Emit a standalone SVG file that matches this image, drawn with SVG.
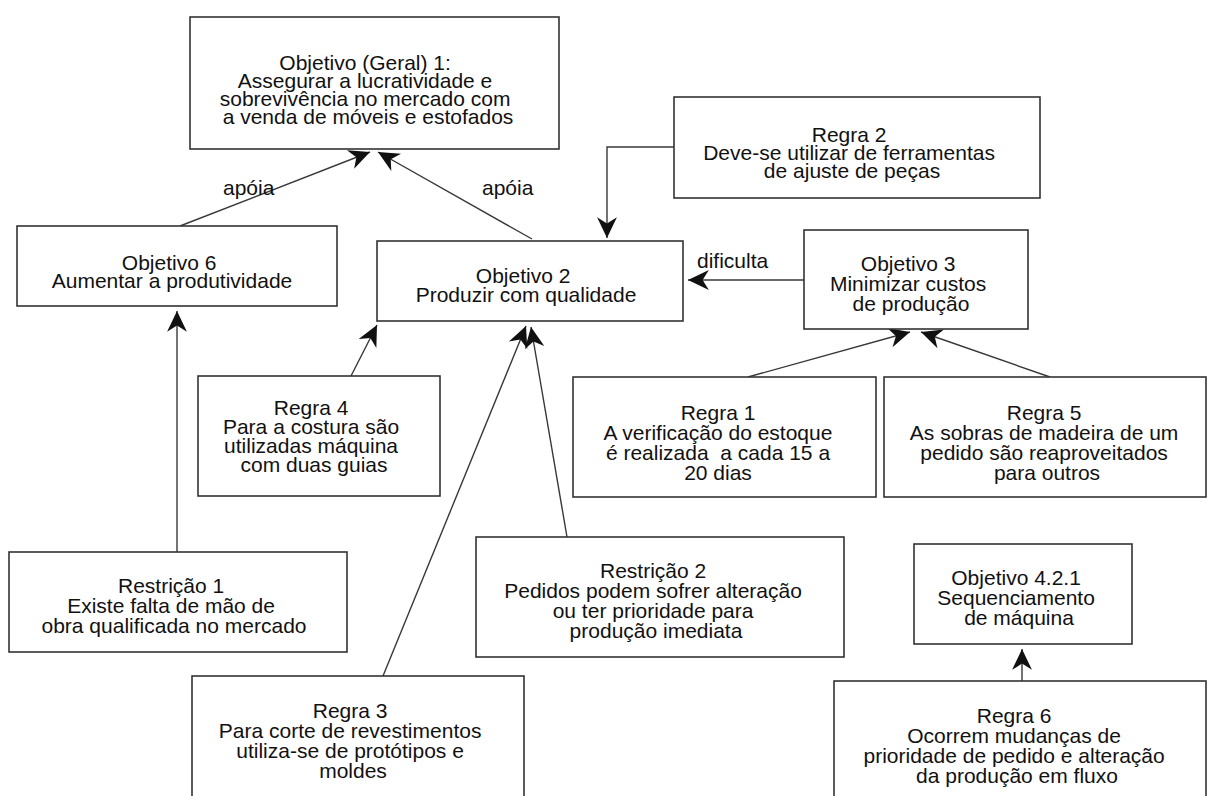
<svg xmlns="http://www.w3.org/2000/svg" width="1207" height="796" viewBox="0 0 1207 796">
  <style>
    .box { fill: #ffffff; stroke: #333333; stroke-width: 1.6; }
    .lbl { font-family: "Liberation Sans", Arial, sans-serif; font-size: 21px; fill: #111111; text-anchor: middle; }
    .edge-lbl { font-family: "Liberation Sans", Arial, sans-serif; font-size: 21px; fill: #111111; }
    .conn { fill: none; stroke: #383838; stroke-width: 1.4; marker-end: url(#arrow); }
  </style>
  <defs>
    <marker id="arrow" markerUnits="userSpaceOnUse" markerWidth="24" markerHeight="24" viewBox="-21 -11 23 22" refX="0" refY="0" orient="auto">
      <path d="M0,0 L-20,-9.5 L-14,0 L-20,9.5 Z" fill="#111111"/>
    </marker>
  </defs>

  <rect x="0" y="0" width="1207" height="796" fill="#ffffff"/>

  <!-- connectors -->
  <g id="connectors">
    <line class="conn" x1="180" y1="226" x2="370" y2="152"/>
    <line class="conn" x1="532" y1="239" x2="378" y2="152"/>
    <polyline class="conn" points="674,147 607,147 607,238"/>
    <line class="conn" x1="804" y1="280" x2="688" y2="280"/>
    <line class="conn" x1="351" y1="376" x2="377" y2="325"/>
    <line class="conn" x1="383" y1="676" x2="526" y2="326"/>
    <line class="conn" x1="567" y1="537" x2="531" y2="327"/>
    <line class="conn" x1="177" y1="552" x2="177" y2="311"/>
    <line class="conn" x1="748" y1="377" x2="910" y2="332"/>
    <line class="conn" x1="1050" y1="377" x2="921" y2="332"/>
    <line class="conn" x1="1022" y1="681" x2="1022" y2="649"/>
    <text class="edge-lbl" x="223" y="195">apóia</text>
    <text class="edge-lbl" x="482" y="195">apóia</text>
    <text class="edge-lbl" x="697" y="268">dificulta</text>
  </g>

  <!-- nodes -->
  <g id="objetivo1">
    <rect class="box" x="190" y="17" width="369" height="132"/>
    <text class="lbl">
      <tspan x="368" y="70">Objetivo (Geral) 1:</tspan>
      <tspan x="368" y="88">Assegurar a lucratividade e</tspan>
      <tspan x="368" y="106">sobrevivência no mercado com</tspan>
      <tspan x="368" y="124">a venda de móveis e estofados</tspan>
    </text>
  </g>

  <g id="regra2">
    <rect class="box" x="674" y="97" width="366" height="101"/>
    <text class="lbl">
      <tspan x="852" y="142">Regra 2</tspan>
      <tspan x="852" y="160">Deve-se utilizar de ferramentas</tspan>
      <tspan x="852" y="178">de ajuste de peças</tspan>
    </text>
  </g>

  <g id="objetivo6">
    <rect class="box" x="17" y="226" width="320" height="80"/>
    <text class="lbl">
      <tspan x="172" y="270">Objetivo 6</tspan>
      <tspan x="172" y="288">Aumentar a produtividade</tspan>
    </text>
  </g>

  <g id="objetivo2">
    <rect class="box" x="377" y="241" width="306" height="80"/>
    <text class="lbl">
      <tspan x="526" y="283">Objetivo 2</tspan>
      <tspan x="526" y="302">Produzir com qualidade</tspan>
    </text>
  </g>

  <g id="objetivo3">
    <rect class="box" x="804" y="230" width="224" height="99"/>
    <text class="lbl">
      <tspan x="911" y="271">Objetivo 3</tspan>
      <tspan x="911" y="291">Minimizar custos</tspan>
      <tspan x="911" y="311">de produção</tspan>
    </text>
  </g>

  <g id="regra4">
    <rect class="box" x="198" y="376" width="242" height="120"/>
    <text class="lbl">
      <tspan x="314" y="415">Regra 4</tspan>
      <tspan x="314" y="434">Para a costura são</tspan>
      <tspan x="314" y="453">utilizadas máquina</tspan>
      <tspan x="314" y="472">com duas guias</tspan>
    </text>
  </g>

  <g id="regra1">
    <rect class="box" x="573" y="377" width="303" height="120"/>
    <text class="lbl" xml:space="preserve"><tspan x="718" y="420">Regra 1</tspan><tspan x="718" y="440">A verificação do estoque</tspan><tspan x="718" y="460">é realizada  a cada 15 a</tspan><tspan x="718" y="480">20 dias</tspan></text>
  </g>

  <g id="regra5">
    <rect class="box" x="884" y="377" width="322" height="120"/>
    <text class="lbl">
      <tspan x="1047" y="420">Regra 5</tspan>
      <tspan x="1047" y="440">As sobras de madeira de um</tspan>
      <tspan x="1047" y="460">pedido são reaproveitados</tspan>
      <tspan x="1047" y="480">para outros</tspan>
    </text>
  </g>

  <g id="restricao1">
    <rect class="box" x="9" y="552" width="338" height="100"/>
    <text class="lbl">
      <tspan x="174" y="593">Restrição 1</tspan>
      <tspan x="174" y="613">Existe falta de mão de</tspan>
      <tspan x="174" y="633">obra qualificada no mercado</tspan>
    </text>
  </g>

  <g id="restricao2">
    <rect class="box" x="476" y="537" width="368" height="120"/>
    <text class="lbl">
      <tspan x="656" y="578">Restrição 2</tspan>
      <tspan x="656" y="598">Pedidos podem sofrer alteração</tspan>
      <tspan x="656" y="618">ou ter prioridade para</tspan>
      <tspan x="656" y="638">produção imediata</tspan>
    </text>
  </g>

  <g id="objetivo421">
    <rect class="box" x="914" y="544" width="218" height="100"/>
    <text class="lbl">
      <tspan x="1019" y="585">Objetivo 4.2.1</tspan>
      <tspan x="1019" y="605">Sequenciamento</tspan>
      <tspan x="1019" y="625">de máquina</tspan>
    </text>
  </g>

  <g id="regra3">
    <rect class="box" x="192" y="676" width="332" height="140"/>
    <text class="lbl">
      <tspan x="353" y="718">Regra 3</tspan>
      <tspan x="353" y="738">Para corte de revestimentos</tspan>
      <tspan x="353" y="758">utiliza-se de protótipos e</tspan>
      <tspan x="353" y="778">moldes</tspan>
    </text>
  </g>

  <g id="regra6">
    <rect class="box" x="834" y="681" width="372" height="140"/>
    <text class="lbl">
      <tspan x="1017" y="723">Regra 6</tspan>
      <tspan x="1017" y="743">Ocorrem mudanças de</tspan>
      <tspan x="1017" y="763">prioridade de pedido e alteração</tspan>
      <tspan x="1017" y="783">da produção em fluxo</tspan>
    </text>
  </g>
</svg>
